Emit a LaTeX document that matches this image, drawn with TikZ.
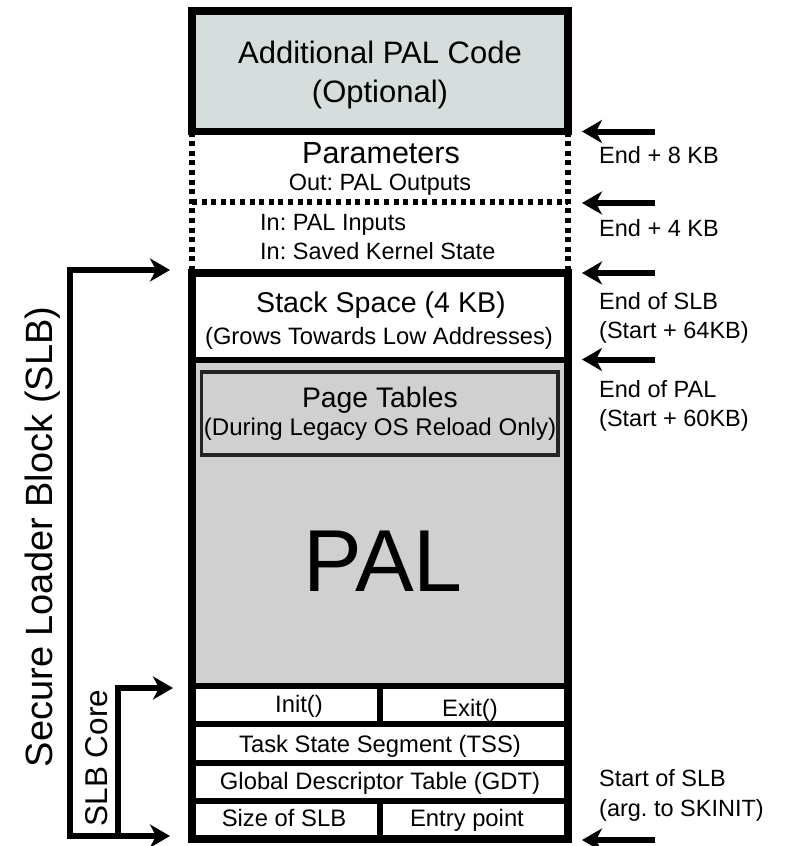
\documentclass[tikz,border=0pt]{standalone}
\usepackage{fontspec}
\setmainfont{Liberation Sans}
\usetikzlibrary{arrows.meta}
\definecolor{topfill}{RGB}{213,222,220}
\definecolor{palgray}{RGB}{208,208,208}
\definecolor{ptborder}{RGB}{35,35,35}
\tikzset{
  frameline/.style={line width=7.5pt},
  rowline/.style={line width=6pt},
  dotline/.style={line width=6pt, dash pattern=on 5pt off 4.6pt},
  ptr/.style={line width=6pt, -{Stealth[length=20pt,width=23pt,inset=6pt]}},
  dptr/.style={line width=6pt, {Stealth[length=20pt,width=23pt,inset=6pt]}-{Stealth[length=20pt,width=23pt,inset=6pt]}},
  txt/.style={inner sep=0pt, text=black, anchor=base},
  rlabel/.style={txt, anchor=base west, font=\fontsize{23.5}{29}\selectfont},
  rowtxt/.style={txt, font=\fontsize{23.8}{28}\selectfont},
}
\begin{document}
\frenchspacing
\begin{tikzpicture}[x=1pt,y=-1pt]
\useasboundingbox (0,0) rectangle (787,846);
% fills
\fill[topfill] (192,11) rectangle (568,131.5);
\fill[palgray] (192,359.5) rectangle (568,685.5);
\draw[ptborder, line width=3.5pt, fill=palgray] (201.5,372) rectangle (558,455);
% top box
\draw[frameline] (192,11) rectangle (568,131.5);
% dotted parameter area
\draw[dotline] (192,131.5) -- (192,273);
\draw[dotline] (568,131.5) -- (568,273);
\draw[dotline] (192,202) -- (568,202);
% main SLB block
\draw[frameline] (192,273) rectangle (568,839);
\draw[rowline] (192,359.5) -- (568,359.5);
\draw[rowline] (192,685.5) -- (568,685.5);
\draw[rowline] (192,724) -- (568,724);
\draw[rowline] (192,762.5) -- (568,762.5);
\draw[rowline] (192,801) -- (568,801);
\draw[rowline] (380,685.5) -- (380,724);
\draw[rowline] (380,801) -- (380,839);
% texts in blocks
\node[txt, font=\fontsize{31}{36}\selectfont] (addl) at (380,63.1) {Additional PAL Code};
\node[txt, font=\fontsize{31}{36}\selectfont] (optl) at (380,102.1) {(Optional)};
\node[txt, font=\fontsize{30.5}{34}\selectfont] (params) at (381,163.9) {Parameters};
\node[txt, font=\fontsize{23.5}{28}\selectfont] (outs) at (380,190.4) {Out: PAL Outputs};
\node[txt, anchor=base west, font=\fontsize{23.5}{28}\selectfont] (ins) at (260,230.4) {In: PAL Inputs};
\node[txt, anchor=base west, font=\fontsize{23.5}{28}\selectfont] (kern) at (260,259.4) {In: Saved Kernel State};
\node[txt, font=\fontsize{28.6}{32}\selectfont] (stack) at (381,312.2) {Stack Space (4 KB)};
\node[txt, font=\fontsize{23.7}{28}\selectfont] (grows) at (379,344.5) {(Grows Towards Low Addresses)};
\node[txt, font=\fontsize{28.3}{32}\selectfont] (ptab) at (380,407.1) {Page Tables};
\node[txt, font=\fontsize{24.1}{28}\selectfont] (legacy) at (380,435.6) {(During Legacy OS Reload Only)};
\node[txt, font=\fontsize{88}{90}\selectfont] (pal) at (383,591.5) {PAL};
\node[rowtxt] (init) at (299,712.5) {Init()};
\node[rowtxt] (exit) at (470,716.5) {Exit()};
\node[rowtxt] (tss) at (380,752.5) {Task State Segment (TSS)};
\node[rowtxt] (gdt) at (380,789.5) {Global Descriptor Table (GDT)};
\node[rowtxt] (size) at (284,826.5) {Size of SLB};
\node[rowtxt] (entry) at (467,826.5) {Entry point};
% right labels
\node[rlabel] (e8) at (599,163.4) {End + 8 KB};
\node[rlabel] (e4) at (599,236.4) {End + 4 KB};
\node[rlabel] (eslb) at (599,309.4) {End of SLB};
\node[rlabel] (eslb2) at (599,338.4) {(Start + 64KB)};
\node[rlabel] (epal) at (599,397.4) {End of PAL};
\node[rlabel] (epal2) at (599,426.4) {(Start + 60KB)};
\node[rlabel] (sslb) at (599,786.4) {Start of SLB};
\node[rlabel] (sslb2) at (599,816.4) {(arg. to SKINIT)};
% right arrows
\coordinate (a1s) at (655,131.5); \coordinate (a1e) at (582,131.5);
\coordinate (a2s) at (655,203);   \coordinate (a2e) at (582,203);
\coordinate (a3s) at (655,273);   \coordinate (a3e) at (582,273);
\coordinate (a4s) at (655,359.5); \coordinate (a4e) at (582,359.5);
\coordinate (a5s) at (655,840);   \coordinate (a5e) at (582,840);
\draw[ptr] (a1s) -- (a1e);
\draw[ptr] (a2s) -- (a2e);
\draw[ptr] (a3s) -- (a3e);
\draw[ptr] (a4s) -- (a4e);
\draw[ptr] (a5s) -- (a5e);
% left brackets
\coordinate (slbtop) at (170,270); \coordinate (slbtl) at (70,270);
\coordinate (slbbl) at (70,836);   \coordinate (slbbot) at (170,836);
\draw[dptr] (slbtop) -- (slbtl) -- (slbbl) -- (slbbot);
\coordinate (corebase) at (118,836); \coordinate (corecorner) at (118,688);
\coordinate (coretip) at (173,688);
\draw[ptr] (corebase) -- (corecorner) -- (coretip);
\node[inner sep=0pt, rotate=90, anchor=base, font=\fontsize{38}{40}\selectfont] (slblabel) at (52,537) {Secure Loader Block (SLB)};
\node[inner sep=0pt, rotate=90, anchor=base, font=\fontsize{31.5}{34}\selectfont] (corelabel) at (107,758) {SLB Core};
\end{tikzpicture}
\end{document}
